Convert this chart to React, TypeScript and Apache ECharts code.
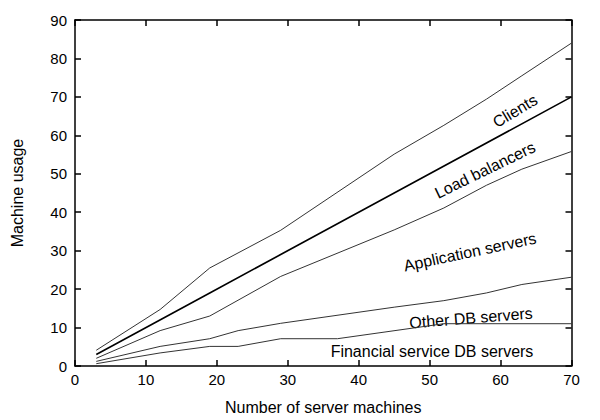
import React, { useEffect, useRef } from "react";
import * as echarts from "echarts";

const xTicks = [0, 10, 20, 30, 40, 50, 60, 70];
const yTicks = [0, 10, 20, 30, 40, 50, 60, 70, 80, 90];

const clientsTop: [number, number][] = [
  [3, 4.1], [12, 14.7], [19, 25.5], [29, 35.3], [45, 55.1], [52, 62.6], [58, 69.4], [63, 75.5], [70, 84],
];
const loadBalancersTop: [number, number][] = [
  [3, 3], [19, 19], [29, 29], [45, 45], [70, 70],
];
const appServersTop: [number, number][] = [
  [3, 2], [12, 9.2], [19, 13], [29, 23.3], [45, 35.4], [52, 41.1], [58, 47], [63, 51.2], [70, 55.8],
];
const otherDbTop: [number, number][] = [
  [3, 1.2], [12, 5.1], [19, 7.1], [23, 9.2], [29, 11.1], [45, 15.3], [52, 17], [58, 19], [63, 21.2], [70, 23.1],
];
const financialTop: [number, number][] = [
  [3, 0.6], [12, 3.4], [19, 5.1], [23, 5.1], [29, 7.1], [37, 7.1], [52, 11], [70, 11],
];

const regionLabels = [
  { text: "Clients", x: 515, y: 111, angle: 31 },
  { text: "Load balancers", x: 485, y: 170, angle: 26 },
  { text: "Application servers", x: 470, y: 252, angle: 12 },
  { text: "Other DB servers", x: 471, y: 318, angle: 4.6 },
  { text: "Financial service DB servers", x: 432, y: 351, angle: 0 },
];

const FONT = "Liberation Sans, Arial, Helvetica, sans-serif";

export default function App() {
  const ref = useRef<HTMLDivElement>(null);
  useEffect(() => {
    if (!ref.current) return;
    const chart = echarts.init(ref.current, undefined, { renderer: "svg" });
    const axisLine = { show: true, onZero: false, lineStyle: { color: "#000", width: 1.5 } };
    const tick = { show: true, inside: true, length: 6, lineStyle: { color: "#000", width: 1.5 } };
    const thin = (name: string, data: [number, number][], width = 1, color = "#333") => ({
      name,
      type: "line",
      data,
      showSymbol: false,
      symbol: "none",
      lineStyle: { color, width },
      xAxisIndex: 0,
      yAxisIndex: 0,
      silent: true,
    });
    chart.setOption({
      animation: false,
      backgroundColor: "#fff",
      textStyle: { fontFamily: FONT },
      grid: { left: 75, right: 28.5, top: 20, bottom: 47.5, containLabel: false },
      xAxis: [
        {
          type: "value",
          min: xTicks[0],
          max: xTicks[xTicks.length - 1],
          interval: 10,
          position: "bottom",
          axisLine,
          axisTick: tick,
          splitLine: { show: false },
          axisLabel: { color: "#000", fontSize: 15, margin: 6, fontFamily: FONT },
          name: "Number of server machines",
          nameLocation: "middle",
          nameGap: 33,
          nameTextStyle: { color: "#000", fontSize: 16, fontFamily: FONT },
        },
        {
          type: "value",
          min: xTicks[0],
          max: xTicks[xTicks.length - 1],
          interval: 10,
          position: "top",
          axisLine,
          axisTick: tick,
          splitLine: { show: false },
          axisLabel: { show: false },
        },
      ],
      yAxis: [
        {
          type: "value",
          min: yTicks[0],
          max: yTicks[yTicks.length - 1],
          interval: 10,
          position: "left",
          axisLine,
          axisTick: tick,
          splitLine: { show: false },
          axisLabel: { color: "#000", fontSize: 15, margin: 8, fontFamily: FONT },
          name: "Machine usage",
          nameLocation: "middle",
          nameGap: 50,
          nameTextStyle: { color: "#000", fontSize: 16, fontFamily: FONT },
        },
        {
          type: "value",
          min: yTicks[0],
          max: yTicks[yTicks.length - 1],
          interval: 10,
          position: "right",
          axisLine,
          axisTick: tick,
          splitLine: { show: false },
          axisLabel: { show: false },
        },
      ],
      series: [
        thin("Clients", clientsTop),
        thin("Load balancers", loadBalancersTop, 1.6, "#000"),
        thin("Application servers", appServersTop),
        thin("Other DB servers", otherDbTop),
        thin("Financial service DB servers", financialTop),
      ],
      graphic: regionLabels.map((l) => ({
        type: "text",
        x: l.x,
        y: l.y,
        rotation: (l.angle * Math.PI) / 180,
        style: {
          text: l.text,
          fill: "#000",
          font: `16px ${FONT}`,
          align: "center",
          verticalAlign: "middle",
        },
      })),
    });
    return () => chart.dispose();
  }, []);
  return (
    <div
      ref={ref}
      style={{ position: "fixed", left: 0, top: 0, width: 600, height: 420 }}
    />
  );
}
